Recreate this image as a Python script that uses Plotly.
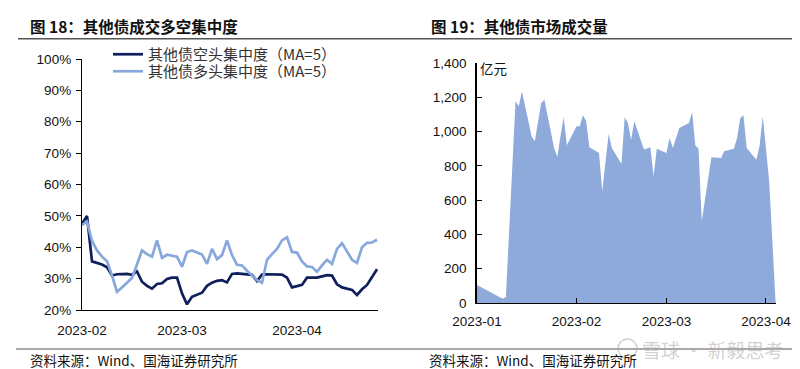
import pandas as pd
import plotly.graph_objects as go

# ---------------- data: left chart (trading days) ----------------
trade_dates = [d.strftime("%Y-%m-%d") for d in pd.bdate_range("2023-02-01", "2023-04-26")
               if d.strftime("%Y-%m-%d") != "2023-04-05"]

short_conc = [47.5, 50.0, 35.5, 35.0, 34.5, 33.6, 31.0, 31.4, 31.5, 31.5,
              31.2, 32.3, 29.0, 27.7, 26.8, 28.3, 28.5, 29.9, 30.3, 30.3,
              25.3, 21.8, 24.2, 24.8, 25.5, 27.7, 28.7, 29.3, 29.5, 28.8,
              31.5, 31.7, 31.6, 31.4, 31.2, 29.2, 31.3, 31.4, 31.4, 31.4,
              31.3, 30.3, 27.2, 27.6, 28.0, 30.3, 30.3, 30.3, 30.7, 31.1,
              31.0, 28.2, 27.2, 26.8, 26.4, 24.8, 26.6, 28.0, 30.3, 33.0]

long_conc = [47.0, 48.2, 42.0, 39.0, 37.0, 35.5, 31.0, 25.8, 27.2, 28.8,
             30.2, 34.5, 39.0, 37.8, 37.0, 42.2, 36.6, 37.6, 37.4, 37.0,
             33.8, 38.5, 39.0, 38.3, 37.7, 34.7, 39.5, 36.2, 37.5, 42.2,
             37.5, 34.4, 34.2, 32.5, 31.0, 29.5, 28.7, 36.0, 37.8, 39.5,
             42.2, 43.2, 38.5, 38.3, 35.5, 33.9, 33.7, 32.2, 34.2, 36.0,
             34.7, 39.5, 41.3, 38.8, 36.0, 35.0, 40.0, 41.4, 41.5, 42.4]

left_tick_dates = ["2023-02-01", "2023-03-01", "2023-04-03"]
left_tick_text = ["2023-02", "2023-03", "2023-04"]

# ---------------- data: right chart (volume, 亿元) ----------------
vol_dates = ["2023-01-01", "2023-01-09", "2023-01-10", "2023-01-13", "2023-01-14", "2023-01-15",
             "2023-01-18", "2023-01-19", "2023-01-21", "2023-01-22", "2023-01-25", "2023-01-26",
             "2023-01-27", "2023-01-28", "2023-01-29", "2023-02-01", "2023-02-02", "2023-02-03",
             "2023-02-04", "2023-02-05", "2023-02-08", "2023-02-09", "2023-02-11", "2023-02-12",
             "2023-02-15", "2023-02-16", "2023-02-17", "2023-02-18", "2023-02-19", "2023-02-22",
             "2023-02-24", "2023-02-25", "2023-02-26", "2023-03-01", "2023-03-02", "2023-03-03",
             "2023-03-05", "2023-03-08", "2023-03-09", "2023-03-10", "2023-03-11", "2023-03-12",
             "2023-03-15", "2023-03-18", "2023-03-19", "2023-03-22", "2023-03-23", "2023-03-24",
             "2023-03-25", "2023-03-26", "2023-03-29", "2023-03-30", "2023-03-31", "2023-04-02",
             "2023-04-04"]
vol_values = [105, 25, 35, 1177, 1147, 1235, 972, 943, 1167, 1186, 904, 852, 972, 1083, 920,
              1031, 1031, 1095, 1060, 908, 875, 652, 986, 904, 811, 1083, 1050, 953, 1060,
              895, 908, 739, 900, 875, 963, 904, 1021, 1050, 1114, 920, 900, 477, 850, 846,
              885, 900, 963, 1079, 1095, 904, 836, 914, 1089, 710, 5]

right_tick_dates = ["2023-01-01", "2023-02-01", "2023-03-01", "2023-04-01"]
right_tick_text = ["2023-01", "2023-02", "2023-03", "2023-04"]

W, H = 800, 369
def px(x): return x / W
def py(y): return 1 - y / H

NUM = "Liberation Sans, Arial, sans-serif"
CJK = "Noto Sans CJK SC, sans-serif"
DARK = "#0e1f5b"
LIGHT = "#86a8dc"
AREA = "#8eaadb"

fig = go.Figure()
fig.add_trace(go.Scatter(x=trade_dates, y=short_conc, mode="lines",
                         name="其他债空头集中度（MA=5）",
                         line=dict(color=DARK, width=2.7),
                         xaxis="x", yaxis="y", legend="legend"))
fig.add_trace(go.Scatter(x=trade_dates, y=long_conc, mode="lines",
                         name="其他债多头集中度（MA=5）",
                         line=dict(color=LIGHT, width=2.7),
                         xaxis="x", yaxis="y", legend="legend2"))
fig.add_trace(go.Scatter(x=vol_dates, y=vol_values, mode="lines", fill="tozeroy",
                         line=dict(color=AREA, width=0), fillcolor=AREA,
                         xaxis="x2", yaxis="y2", showlegend=False))

axis_common = dict(showgrid=False, zeroline=False, showline=True, linecolor="black",
                   tickcolor="black", automargin=False,
                   tickfont=dict(family=NUM, size=13.5, color="#111"))

fig.update_layout(
    width=W, height=H, margin=dict(l=0, r=0, t=0, b=0, pad=0, autoexpand=False),
    paper_bgcolor="white", plot_bgcolor="white",
    xaxis=dict(domain=[px(74), px(370)], anchor="y", type="category",
               range=[0, 59.2], tickvals=left_tick_dates, ticktext=left_tick_text,
               ticks="", linewidth=1.2, ticklabelstandoff=8, **axis_common),
    xaxis3=dict(domain=[px(74), px(370)], anchor="y", overlaying="x", type="linear",
                range=[0, 59.2], tickvals=[20, 40], ticks="inside", ticklen=5,
                showticklabels=False, showgrid=False, zeroline=False, showline=False,
                tickcolor="black", automargin=False),
    yaxis=dict(domain=[py(302), py(51)], anchor="x", range=[20, 100], dtick=10,
               ticksuffix="%", ticks="outside", ticklen=5, linewidth=1.3,
               ticklabelstandoff=2, **axis_common),
    xaxis2=dict(domain=[px(469), px(768)], anchor="y2", type="date",
                range=["2023-01-01", "2023-04-04 03:00"], tickvals=right_tick_dates,
                ticktext=right_tick_text, ticks="inside", ticklen=5, linewidth=1.2,
                ticklabelstandoff=6, **axis_common),
    yaxis2=dict(domain=[py(295), py(55)], anchor="x2", range=[0, 1400], dtick=200,
                tickformat=",", ticks="inside", ticklen=5, linewidth=1.5,
                ticklabelstandoff=6, **axis_common),
    legend=dict(x=px(100), y=py(46.5), xanchor="left", yanchor="middle",
                bgcolor="rgba(0,0,0,0)", borderwidth=0,
                font=dict(family=CJK, size=15, color="#333")),
    legend2=dict(x=px(100), y=py(63.5), xanchor="left", yanchor="middle",
                 bgcolor="rgba(0,0,0,0)", borderwidth=0,
                 font=dict(family=CJK, size=15, color="#333")),
    showlegend=True,
)

ann = []
ann.append(dict(text="<b>图 18：其他债成交多空集中度</b>", x=px(20), y=py(18),
                font=dict(family=CJK, size=15.5, color="#111")))
ann.append(dict(text="<b>图 19：其他债市场成交量</b>", x=px(420.5), y=py(18),
                font=dict(family=CJK, size=15.5, color="#111")))
ann.append(dict(text="亿元", x=px(470), y=py(60),
                font=dict(family=CJK, size=13.5, color="#111")))
ann.append(dict(text="资料来源：Wind、国海证券研究所", x=px(20), y=py(352),
                font=dict(family=CJK, size=13.5, color="#111")))
ann.append(dict(text="资料来源：Wind、国海证券研究所", x=px(419), y=py(352),
                font=dict(family=CJK, size=13.5, color="#111")))
ann.append(dict(text="雪球 · 新毅思考", x=px(632), y=py(341),
                font=dict(family=CJK, size=19, color="rgba(170,170,170,0.55)")))
for a in ann:
    a.update(xref="paper", yref="paper", xanchor="left", yanchor="middle", showarrow=False)
fig.update_layout(annotations=ann)

shapes = [
    dict(type="line", xref="paper", yref="paper", x0=px(10), x1=px(400), y0=py(30.7), y1=py(30.7),
         line=dict(color="#555", width=1.5)),
    dict(type="line", xref="paper", yref="paper", x0=px(400), x1=px(793), y0=py(30.7), y1=py(30.7),
         line=dict(color="#555", width=1.5)),
    dict(type="line", xref="paper", yref="paper", x0=px(8), x1=px(790), y0=py(341), y1=py(341),
         line=dict(color="#555", width=1.2)),
    dict(type="circle", xref="paper", yref="paper", x0=px(610), x1=px(629), y0=py(350), y1=py(331),
         line=dict(color="rgba(170,170,170,0.55)", width=1.5)),
]
fig.update_layout(shapes=shapes)

fig.write_html("out.html")
